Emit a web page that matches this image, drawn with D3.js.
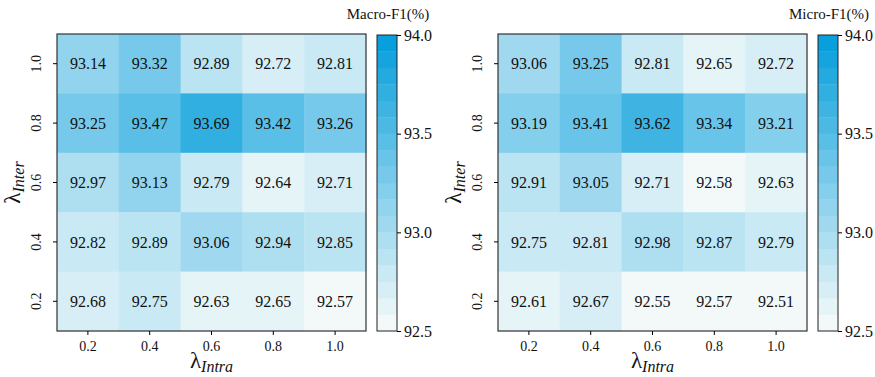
<!DOCTYPE html>
<html>
<head>
<meta charset="utf-8">
<script src="https://cdn.jsdelivr.net/npm/d3@7"></script>
<style>
  body { margin: 0; background: #fff; }
  text { font-family: "Liberation Serif", "Times New Roman", serif; fill: #111; }
</style>
</head>
<body>
<div id="chart"></div>
<script>
var intraTicks = ["0.2", "0.4", "0.6", "0.8", "1.0"];
var interTicks = ["1.0", "0.8", "0.6", "0.4", "0.2"];   // top to bottom

var macroF1 = [
  [93.14, 93.32, 92.89, 92.72, 92.81],
  [93.25, 93.47, 93.69, 93.42, 93.26],
  [92.97, 93.13, 92.79, 92.64, 92.71],
  [92.82, 92.89, 93.06, 92.94, 92.85],
  [92.68, 92.75, 92.63, 92.65, 92.57]
];
var microF1 = [
  [93.06, 93.25, 92.81, 92.65, 92.72],
  [93.19, 93.41, 93.62, 93.34, 93.21],
  [92.91, 93.05, 92.71, 92.58, 92.63],
  [92.75, 92.81, 92.98, 92.87, 92.79],
  [92.61, 92.67, 92.55, 92.57, 92.51]
];
var cbarTicks = [92.5, 93.0, 93.5, 94.0];

var W = 875, H = 377;
var nBands = 18;
var interp = d3.interpolateRgb("#f3f9f9", "#079fdc");
var bandColors = d3.range(nBands).map(function(i){ return interp(i/(nBands-1)); });
var color = d3.scaleQuantize().domain([92.5, 94.0]).range(bandColors);

var svg = d3.select("#chart").append("svg")
    .attr("width", W)
    .attr("height", H);

var drawPanel = function(left, values, label) {
    var top = 34, w = 309, h = 297;
    var g = svg.append("g").attr("transform", "translate(" + left + "," + top + ")");

    var x = d3.scaleBand().domain(intraTicks).range([0, w]);
    var y = d3.scaleBand().domain(interTicks).range([0, h]);

    var cells = [];
    values.forEach(function(row, r){
        row.forEach(function(v, c){
            cells.push({ r: interTicks[r], c: intraTicks[c], v: v });
        });
    });

    g.selectAll("rect.cell").data(cells).enter().append("rect")
        .attr("class", "cell")
        .attr("x", function(d){ return x(d.c); })
        .attr("y", function(d){ return y(d.r); })
        .attr("width", x.bandwidth() + 0.5)
        .attr("height", y.bandwidth() + 0.5)
        .style("fill", function(d){ return color(d.v); });

    g.selectAll("text.val").data(cells).enter().append("text")
        .attr("class", "val")
        .attr("x", function(d){ return x(d.c) + x.bandwidth()/2; })
        .attr("y", function(d){ return y(d.r) + y.bandwidth()/2; })
        .attr("text-anchor", "middle")
        .attr("dy", "0.35em")
        .style("font-size", "16px")
        .text(function(d){ return d.v.toFixed(2); });

    g.append("rect")
        .attr("width", w).attr("height", h)
        .style("fill", "none").style("stroke", "#333").style("stroke-width", 1.2);

    // x axis
    var xa = g.append("g").attr("transform", "translate(0," + h + ")")
        .call(d3.axisBottom(x).tickSize(4).tickPadding(6));
    xa.select(".domain").remove();
    xa.selectAll("text").style("font-size", "14px").style("font-family", "Liberation Serif, serif");

    // y axis, rotated labels
    var ya = g.append("g").call(d3.axisLeft(y).tickSize(4).tickPadding(6));
    ya.select(".domain").remove();
    ya.selectAll("text")
        .style("font-size", "14px").style("font-family", "Liberation Serif, serif")
        .attr("text-anchor", "middle")
        .attr("transform", "rotate(-90)")
        .attr("x", 0).attr("y", -16).attr("dy", "0");

    // axis titles
    var xt = g.append("text")
        .attr("x", w/2).attr("y", h + 37)
        .attr("text-anchor", "middle")
        .style("font-size", "23px");
    xt.append("tspan").text("λ");
    xt.append("tspan").attr("dy", 4).style("font-size", "16px").style("font-style", "italic").text("Intra");

    var yt = g.append("text")
        .attr("transform", "translate(-37," + (h/2) + ") rotate(-90)")
        .attr("text-anchor", "middle")
        .style("font-size", "23px");
    yt.append("tspan").text("λ");
    yt.append("tspan").attr("dy", 4).style("font-size", "16px").style("font-style", "italic").text("Inter");

    // colorbar
    var cb = svg.append("g").attr("transform", "translate(" + (left + w + 11) + "," + (top + 1) + ")");
    var cbH = 296, cbW = 20;
    var cy = d3.scaleLinear().domain([92.5, 94.0]).range([cbH, 0]);
    var step = 1.5 / nBands;
    cb.selectAll("rect.band").data(bandColors).enter().append("rect")
        .attr("class", "band")
        .attr("x", 0)
        .attr("y", function(d, i){ return cy(92.5 + (i+1)*step); })
        .attr("width", cbW)
        .attr("height", function(d, i){ return cy(92.5 + i*step) - cy(92.5 + (i+1)*step) + 0.3; })
        .style("fill", function(d){ return d; });
    cb.append("rect").attr("width", cbW).attr("height", cbH)
        .style("fill", "none").style("stroke", "#222").style("stroke-width", 1);
    var ca = cb.append("g").attr("transform", "translate(" + cbW + ",0)")
        .call(d3.axisRight(cy).tickValues(cbarTicks).tickFormat(d3.format(".1f")).tickSize(4).tickPadding(3));
    ca.select(".domain").remove();
    ca.selectAll("text").style("font-size", "16px").style("font-family", "Liberation Serif, serif");

    svg.append("text")
        .attr("x", left + w + 22).attr("y", 19)
        .attr("text-anchor", "middle")
        .style("font-size", "15px")
        .text(label);
};

drawPanel(57, macroF1, "Macro-F1(%)");
drawPanel(498, microF1, "Micro-F1(%)");
</script>
</body>
</html>
